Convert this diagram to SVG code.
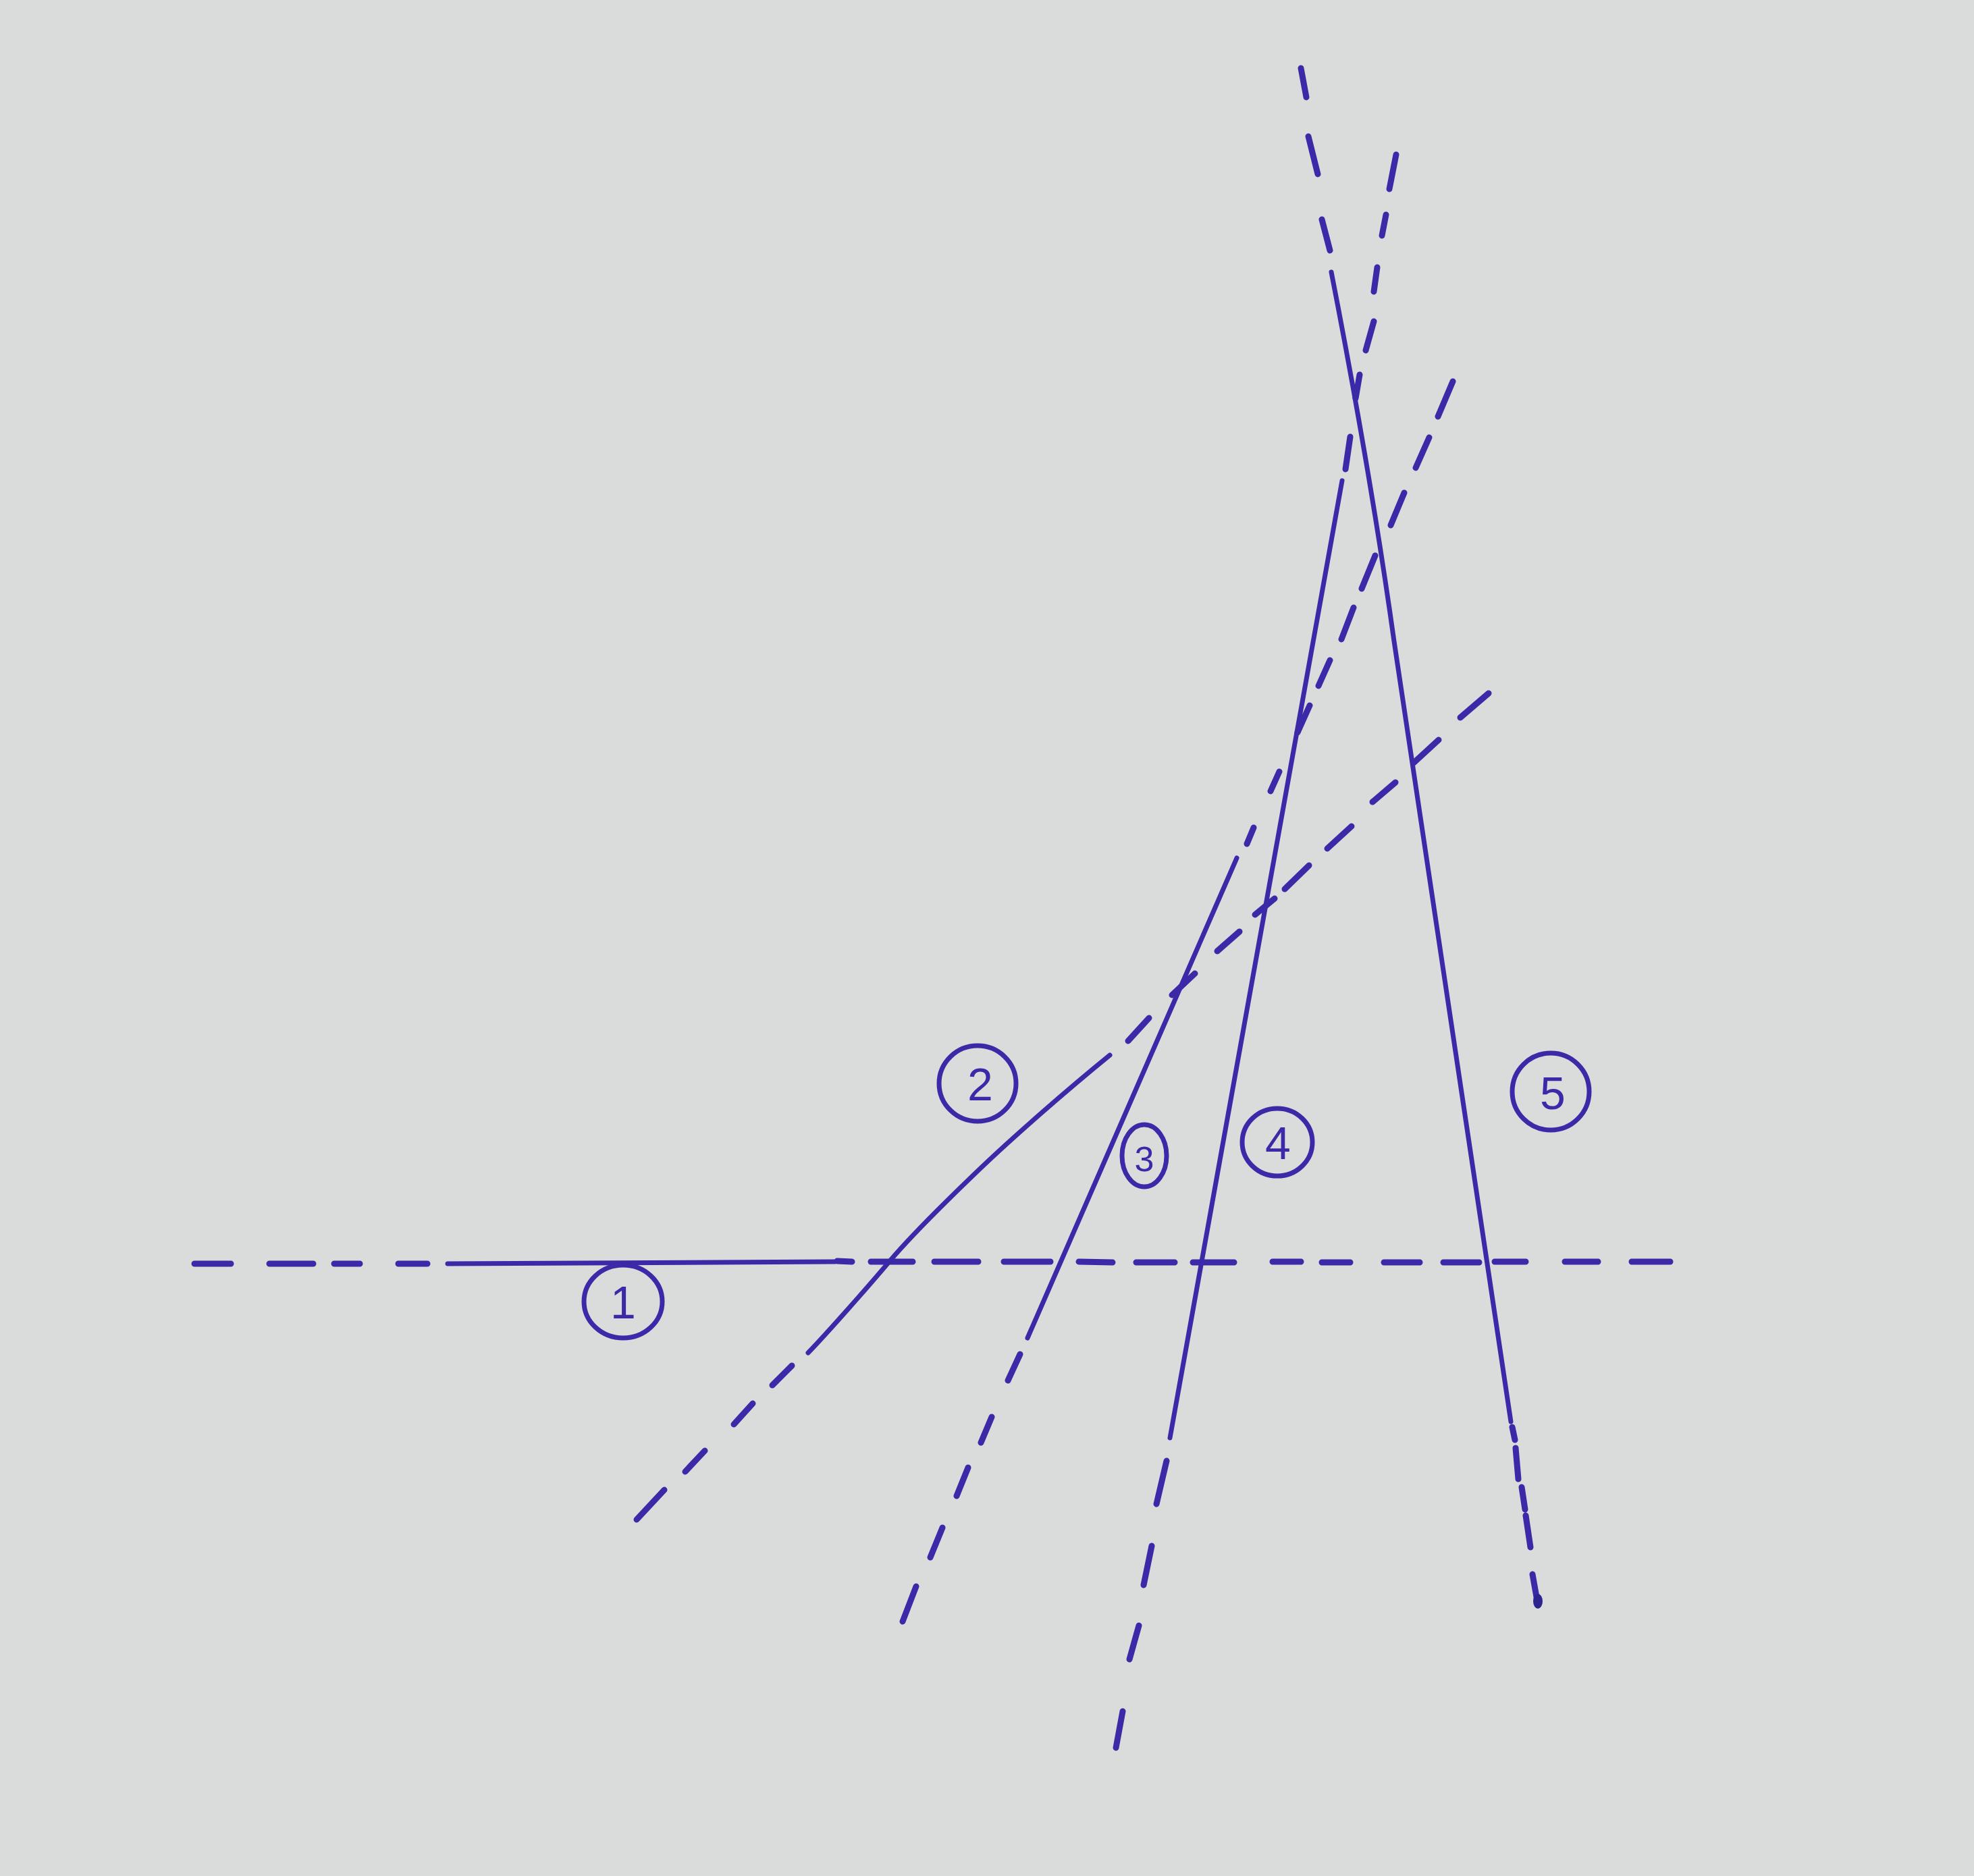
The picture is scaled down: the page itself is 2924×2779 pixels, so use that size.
<svg xmlns="http://www.w3.org/2000/svg" width="2924" height="2779" viewBox="0 0 2924 2779">
<style>
.ink{fill:none;stroke:#3a2aa8;stroke-linecap:round;stroke-linejoin:round}
.solid{stroke-width:7}
.dash{stroke-width:9}
.ring{fill:none;stroke:#3a2aa8;stroke-width:7}
.num{font-family:"Liberation Sans",Arial,sans-serif;fill:#3a2aa8;text-anchor:middle;font-size:68px}
</style>
<rect x="0" y="0" width="2924" height="2779" fill="#d9dcdb"/>
<g id="connectors">
  <g id="line1">
    <path class="ink dash" d="M288,1872 L342,1872 M399,1872 L464,1872 M495,1872 L533,1872 M590,1872 L633,1872"/>
    <path class="ink solid" d="M663,1872 L1237,1869"/>
    <path class="ink dash" d="M1240,1868 L1262,1869 M1290,1869 L1352,1869 M1384,1869 L1449,1869 M1487,1869 L1556,1869 M1598,1869 L1648,1870 M1683,1870 L1740,1870 M1767,1870 L1828,1870 M1885,1869 L1927,1869 M1958,1870 L2000,1870 M2050,1870 L2103,1870 M2138,1870 L2191,1870 M2214,1869 L2260,1869 M2318,1869 L2367,1869 M2417,1869 L2474,1869"/>
  </g>
  <g id="line2">
    <path class="ink dash" d="M2205,1027 L2163,1063 M2131,1096 L2094,1130 M2067,1159 L2033,1188 M2002,1224 L1966,1257 M1939,1282 L1903,1317 M1888,1331 L1859,1355 M1836,1380 L1803,1409 M1770,1442 L1736,1474 M1702,1508 L1671,1542"/>
    <path class="ink solid" d="M1644,1563 C1580,1615 1500,1685 1453,1730 S1350,1830 1318,1868 S1225,1975 1197,2004"/>
    <path class="ink dash" d="M1173,2023 L1144,2052 M1115,2079 L1087,2110 M1044,2149 L1015,2180 M984,2207 L943,2251"/>
  </g>
  <g id="line3">
    <path class="ink dash" d="M2152,565 L2130,617 M2117,648 L2097,693 M2080,730 L2060,778 M2037,823 L2017,872 M2005,900 L1987,947 M1970,978 L1953,1016 M1940,1045 L1922,1085 M1895,1143 L1882,1172 M1857,1226 L1847,1250"/>
    <path class="ink solid" d="M1832,1271 L1522,1982"/>
    <path class="ink dash" d="M1511,2006 L1493,2045 M1469,2099 L1453,2137 M1434,2174 L1417,2216 M1396,2263 L1378,2307 M1357,2350 L1337,2402"/>
  </g>
  <g id="line4">
    <path class="ink dash" d="M2068,229 L2058,280 M2053,318 L2047,349 M2040,396 L2035,432 M2035,476 L2023,519 M2014,555 L2008,590 M2000,647 L1993,695"/>
    <path class="ink solid" d="M1988,712 L1733,2130"/>
    <path class="ink dash" d="M1728,2164 L1713,2228 M1706,2290 L1694,2348 M1687,2408 L1673,2458 M1663,2535 L1653,2589"/>
  </g>
  <g id="line5">
    <path class="ink dash" d="M1927,101 L1935,144 M1938,202 L1952,258 M1958,325 L1970,371"/>
    <path class="ink solid" d="M1972,403 Q2030,700 2065,950 L2238,2106"/>
    <path class="ink dash" d="M2240,2114 L2244,2133 M2245,2145 L2249,2191 M2254,2203 L2259,2236 M2260,2245 L2267,2292 M2270,2332 L2278,2377"/>
    <ellipse cx="2278" cy="2372" rx="7" ry="11" fill="#2e2490"/>
  </g>
</g>
<g id="node1">
  <ellipse class="ring" cx="923" cy="1928" rx="58" ry="54"/>
  <text class="num" x="923" y="1953">1</text>
</g>
<g id="node2">
  <ellipse class="ring" cx="1448" cy="1605" rx="57" ry="56"/>
  <text class="num" x="1452" y="1630">2</text>
</g>
<g id="node3">
  <ellipse class="ring" cx="1695" cy="1712" rx="33" ry="46"/>
  <text class="num" x="1695" y="1735" style="font-size:52px">3</text>
</g>
<g id="node4">
  <ellipse class="ring" cx="1892" cy="1692" rx="52" ry="50"/>
  <text class="num" x="1893" y="1717">4</text>
</g>
<g id="node5">
  <ellipse class="ring" cx="2297" cy="1617" rx="57" ry="57"/>
  <text class="num" x="2300" y="1643">5</text>
</g>
</svg>
